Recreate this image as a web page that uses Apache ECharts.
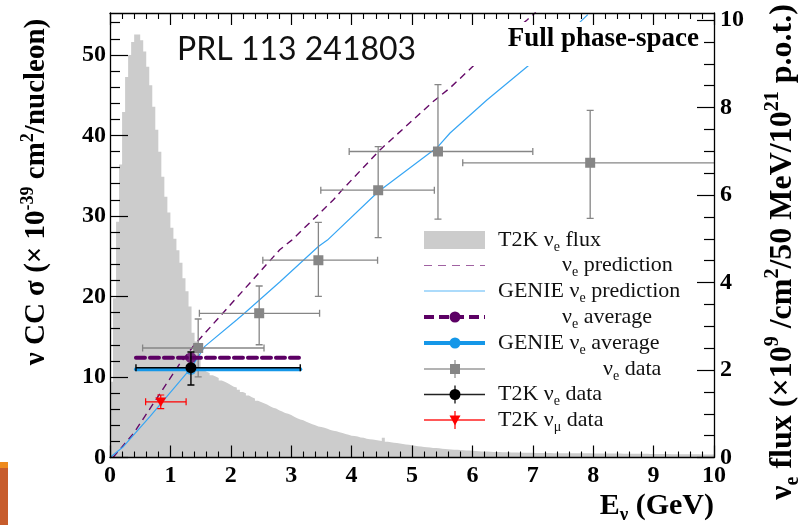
<!DOCTYPE html>
<html>
<head>
<meta charset="utf-8">
<script src="https://cdn.jsdelivr.net/npm/echarts@6/dist/echarts.min.js"></script>
<style>
  html, body { margin: 0; padding: 0; background: #fff; }
  #chart { width: 810px; height: 525px; }
</style>
</head>
<body>
<div id="chart"></div>
<script>
// ---- T2K nu_e flux, 50 MeV bins from 0 to 10 GeV (x10^9 /cm^2/50 MeV/10^21 p.o.t.)
const fluxBinWidth = 0.05;
const fluxValues = [
  1.73, 3.64, 5.39, 6.7, 7.9, 8.7, 9.2, 9.5, 9.67, 9.67,
  9.54, 9.28, 8.93, 8.51, 8.02, 7.49, 6.99, 6.42, 5.96, 5.6,
  5.25, 5.0, 4.74, 4.45, 4.1, 3.8, 3.45, 2.85, 2.65, 2.3,
  2.0, 1.96, 1.93, 1.88, 1.85, 1.82, 1.76, 1.73, 1.70, 1.66,
  1.62, 1.60, 1.55, 1.50, 1.47, 1.42, 1.38, 1.35, 1.30, 1.27,
  1.24, 1.21, 1.17, 1.14, 1.12, 1.08, 1.05, 1.02, 1.00, 0.97,
  0.93, 0.90, 0.87, 0.85, 0.82, 0.79, 0.76, 0.74, 0.71, 0.70,
  0.68, 0.66, 0.63, 0.61, 0.60, 0.58, 0.56, 0.54, 0.52, 0.50,
  0.49, 0.48, 0.46, 0.45, 0.43, 0.42, 0.41, 0.40, 0.39, 0.38,
  0.45, 0.36, 0.35, 0.34, 0.33, 0.32, 0.31, 0.30, 0.29, 0.28,
  0.27, 0.26, 0.25, 0.24, 0.235, 0.23, 0.22, 0.215, 0.21, 0.20,
  0.195, 0.19, 0.185, 0.18, 0.175, 0.17, 0.165, 0.16, 0.158, 0.155,
  0.15, 0.145, 0.14, 0.138, 0.135, 0.13, 0.128, 0.126, 0.124, 0.122,
  0.12, 0.118, 0.116, 0.114, 0.112, 0.11, 0.11, 0.108, 0.107, 0.106,
  0.105, 0.104, 0.104, 0.103, 0.102, 0.101, 0.10, 0.10, 0.099, 0.099,
  0.098, 0.098, 0.097, 0.097, 0.096, 0.096, 0.095, 0.095, 0.095, 0.094,
  0.094, 0.093, 0.093, 0.092, 0.092, 0.091, 0.090, 0.090, 0.089, 0.088,
  0.088, 0.087, 0.086, 0.086, 0.085, 0.084, 0.083, 0.083, 0.082, 0.081,
  0.080, 0.080, 0.079, 0.078, 0.078, 0.077, 0.076, 0.076, 0.075, 0.074,
  0.074, 0.073, 0.073, 0.072, 0.072, 0.071, 0.071, 0.070, 0.070, 0.070
];

// ---- nu_e CC cross-section predictions (x10^-39 cm^2/nucleon) vs E (GeV)
const neutPredE  = [0.05, 0.39, 1.16, 1.41, 1.77, 2.81, 3.01, 3.70, 3.84, 4.47, 5.35, 5.63, 6.04, 6.90, 7.05];
const neutPredXs = [0.0,  3.0,  11.7, 14.1, 17.1, 25.8, 27.0, 32.0, 33.2, 38.2, 44.2, 45.9, 48.8, 54.3, 55.3];
const geniePredE  = [0.0, 0.22, 0.66, 1.34, 1.57, 2.10, 2.24, 2.81, 3.45, 3.60, 4.44, 5.43, 5.63, 6.24, 6.95, 7.73, 7.91];
const geniePredXs = [0.0, 1.34, 5.07, 11.1, 13.8, 17.1, 18.0, 21.8, 26.2, 27.0, 33.0, 38.6, 40.3, 44.4, 48.8, 53.7, 55.0];

// ---- flux-averaged predictions: [mean energy, cross-section], energy range
const neutAvgPoint  = [1.34, 12.4];
const genieAvgPoint = [1.34, 10.95];
const avgRange = [0.43, 3.15];

// ---- measurements: [E, xs, E low, E high, xs low, xs high]
const nueData = [
  [1.46, 13.6, 0.54, 2.55, 10.0, 17.2],
  [2.47, 17.9, 1.48, 3.47, 14.0, 21.3],
  [3.45, 24.5, 2.53, 4.43, 20.0, 29.2],
  [4.44, 33.2, 3.49, 5.37, 27.3, 38.6],
  [5.43, 38.0, 3.96, 7.00, 29.6, 46.3],
  [7.95, 36.6, 5.84, 10.5, 29.7, 43.1]
];
const t2kNueData   = [[1.34, 11.15, 0.43, 3.15, 9.0, 13.1]];
const t2kNumuData  = [[0.84, 6.91, 0.59, 1.26, 6.06, 7.76]];

// ---- axis ticks
const xsTicks = [0, 10, 20, 30, 40, 50];
const xsMinorTicks = [2, 4, 6, 8, 12, 14, 16, 18, 22, 24, 26, 28, 32, 34, 36, 38, 42, 44, 46, 48, 52, 54];
const fluxTicks = [0, 2, 4, 6, 8, 10];
const fluxMinorTicks = [0.5, 1, 1.5, 2.5, 3, 3.5, 4.5, 5, 5.5, 6.5, 7, 7.5, 8.5, 9, 9.5];

const XS_MAX = 55.2;
const FLUX_MAX = 10.16;
const SERIF = '"Liberation Serif", "DejaVu Serif", serif';

const PURPLE = '#650a68';
const PURPLE_AVG = '#5c0064';
const BLUE = '#37a6f4';
const BLUE_AVG = '#1597e8';
const GREY = '#868686';
const FLUX_FILL = '#cccccc';

// histogram outline: each bin contributes its two edges
const fluxSeriesData = [];
fluxValues.forEach(function (v, i) {
  fluxSeriesData.push([i * fluxBinWidth, v], [(i + 1) * fluxBinWidth, v]);
});

const zip = (a, b) => a.map((v, i) => [v, b[i]]);

function errorBars(color, marker, markerSize, lineWidth, capLen) {
  return function (params, api) {
    const x = api.value(0), y = api.value(1);
    const c = api.coord([x, y]);
    const xl = api.coord([api.value(2), y])[0];
    const xh = api.coord([api.value(3), y])[0];
    const yl = api.coord([x, api.value(4)])[1];
    const yh = api.coord([x, api.value(5)])[1];
    const ls = { stroke: color, lineWidth: lineWidth };
    const h = capLen / 2;
    const children = [
      { type: 'line', shape: { x1: xl, y1: c[1], x2: xh, y2: c[1] }, style: ls },
      { type: 'line', shape: { x1: c[0], y1: yl, x2: c[0], y2: yh }, style: ls },
      { type: 'line', shape: { x1: xl, y1: c[1] - h, x2: xl, y2: c[1] + h }, style: ls },
      { type: 'line', shape: { x1: xh, y1: c[1] - h, x2: xh, y2: c[1] + h }, style: ls },
      { type: 'line', shape: { x1: c[0] - h, y1: yl, x2: c[0] + h, y2: yl }, style: ls },
      { type: 'line', shape: { x1: c[0] - h, y1: yh, x2: c[0] + h, y2: yh }, style: ls }
    ];
    const s = markerSize / 2;
    if (marker === 'rect') {
      children.push({ type: 'rect', shape: { x: c[0] - s, y: c[1] - s, width: markerSize, height: markerSize }, style: { fill: color } });
    } else if (marker === 'circle') {
      children.push({ type: 'circle', shape: { cx: c[0], cy: c[1], r: s }, style: { fill: color } });
    } else if (marker === 'triangleDown') {
      children.push({ type: 'polygon', shape: { points: [[c[0] - s, c[1] - s * 0.8], [c[0] + s, c[1] - s * 0.8], [c[0], c[1] + s * 0.9]] }, style: { fill: color } });
    }
    return { type: 'group', children: children };
  };
}

function avgSeries(name, point, color, dashed, z) {
  return [{
    name: name, type: 'line', xAxisIndex: 0, yAxisIndex: 0,
    data: [[avgRange[0], point[1]], [avgRange[1], point[1]]],
    symbol: 'none', z: z,
    lineStyle: { color: color, width: 4, type: dashed ? [9, 5] : 'solid', cap: 'round' }
  }, {
    name: name + ' point', type: 'scatter', xAxisIndex: 0, yAxisIndex: 0,
    data: [point], symbol: 'circle', symbolSize: 11, z: z,
    itemStyle: { color: color }
  }];
}

const tickLabelStyle = { color: '#000', fontFamily: SERIF, fontSize: 24, fontWeight: 'bold' };

function xAxisDef(pos, showLabel) {
  return {
    type: 'value', position: pos, min: 0, max: 10, interval: 1, z: 10,
    axisLine: { show: true, onZero: false, lineStyle: { color: '#000', width: 1.3 } },
    axisTick: { show: true, inside: true, length: 12, lineStyle: { color: '#000', width: 1.2 } },
    minorTick: { show: true, splitNumber: 5, length: 6, lineStyle: { color: '#000', width: 1.1 } },
    axisLabel: Object.assign({ show: showLabel, margin: 6 }, tickLabelStyle),
    splitLine: { show: false }
  };
}

function yAxisDef(pos, max, interval, majors, minors, tickLen, showLabel, margin) {
  return {
    type: 'value', position: pos, min: 0, max: max, interval: interval, z: 10,
    axisLine: { show: showLabel, onZero: false, lineStyle: { color: '#000', width: 1.3 } },
    axisTick: { show: true, inside: true, length: tickLen, customValues: showLabel ? majors : minors, lineStyle: { color: '#000', width: 1.2 } },
    axisLabel: Object.assign({ show: showLabel, customValues: majors, margin: margin }, tickLabelStyle),
    splitLine: { show: false }
  };
}

const chart = echarts.init(document.getElementById('chart'), null, { renderer: 'canvas' });

// legend rows
const LX0 = 424, LX1 = 485, LXC = 455;
const legendRows = [240, 265.5, 291, 317, 343, 369, 394.5, 420];
const txt = function (x, y, rich) {
  return {
    type: 'text', x: x, y: y, z: 20,
    style: {
      text: rich, fill: '#111', fontFamily: SERIF, fontSize: 22,
      align: 'left', verticalAlign: 'middle',
      rich: {
        t: { fontFamily: SERIF, fontSize: 22, lineHeight: 28, fill: '#111' },
        s: { fontFamily: SERIF, fontSize: 14, verticalAlign: 'bottom', fill: '#111' }
      }
    }
  };
};
const legendLine = function (y, color, width, dash) {
  return { type: 'line', z: 20, shape: { x1: LX0, y1: y, x2: LX1, y2: y }, style: { stroke: color, lineWidth: width, lineDash: dash || null } };
};
const legendError = function (y, color) {
  return [
    legendLine(y, color, 1.4),
    { type: 'line', z: 20, shape: { x1: LXC, y1: y - 9, x2: LXC, y2: y + 9 }, style: { stroke: color, lineWidth: 1.4 } }
  ];
};

const legendGraphics = [
  { type: 'rect', z: 20, shape: { x: LX0, y: legendRows[0] - 9, width: LX1 - LX0, height: 18 }, style: { fill: FLUX_FILL } },
  txt(498, legendRows[0], '{t|T2K ν}{s|e}{t| flux}'),
  legendLine(legendRows[1], '#a062a2', 1.2, [8, 6]),
  txt(562, legendRows[1], '{t|ν}{s|e}{t| prediction}'),
  legendLine(legendRows[2], '#5ab7f7', 1.2),
  txt(498, legendRows[2], '{t|GENIE ν}{s|e}{t| prediction}'),
  legendLine(legendRows[3], PURPLE_AVG, 4, [10, 5]),
  { type: 'circle', z: 21, shape: { cx: LXC, cy: legendRows[3], r: 5.5 }, style: { fill: PURPLE_AVG } },
  txt(562, legendRows[3], '{t|ν}{s|e}{t| average}'),
  legendLine(legendRows[4], BLUE_AVG, 4),
  { type: 'circle', z: 21, shape: { cx: LXC, cy: legendRows[4], r: 5.5 }, style: { fill: BLUE_AVG } },
  txt(498, legendRows[4], '{t|GENIE ν}{s|e}{t| average}'),
].concat(legendError(legendRows[5], '#9a9a9a'), [
  { type: 'rect', z: 21, shape: { x: LXC - 5, y: legendRows[5] - 5, width: 10, height: 10 }, style: { fill: GREY } },
  txt(603, legendRows[5], '{t|ν}{s|e}{t| data}')
], legendError(legendRows[6], '#222'), [
  { type: 'circle', z: 21, shape: { cx: LXC, cy: legendRows[6], r: 5.5 }, style: { fill: '#000' } },
  txt(498, legendRows[6], '{t|T2K ν}{s|e}{t| data}')
], legendError(legendRows[7], '#ff2020'), [
  { type: 'polygon', z: 21, shape: { points: [[LXC - 5.5, legendRows[7] - 4.5], [LXC + 5.5, legendRows[7] - 4.5], [LXC, legendRows[7] + 5.5]] }, style: { fill: '#ff0000' } },
  txt(498, legendRows[7], '{t|T2K ν}{s|μ}{t| data}')
]);

function titleRich(size) {
  const small = Math.round(size * 0.62);
  return {
    t: { fontFamily: SERIF, fontSize: size, fontWeight: 'bold', lineHeight: Math.round(size * 1.24), fill: '#000' },
    p: { fontFamily: SERIF, fontSize: small, fontWeight: 'bold', verticalAlign: 'top', fill: '#000' },
    s: { fontFamily: SERIF, fontSize: small, fontWeight: 'bold', verticalAlign: 'bottom', fill: '#000' }
  };
}

const option = {
  backgroundColor: '#fff',
  animation: false,
  grid: { left: 110, right: 96, top: 13, bottom: 67.5, containLabel: false },
  xAxis: [xAxisDef('bottom', true), xAxisDef('top', false)],
  yAxis: [
    yAxisDef('left', XS_MAX, 10, xsTicks, xsMinorTicks, 18, true, 4),
    yAxisDef('right', FLUX_MAX, 2, fluxTicks, fluxMinorTicks, 17, true, 6),
    yAxisDef('left', XS_MAX, 10, xsTicks, xsMinorTicks, 10, false, 4),
    yAxisDef('right', FLUX_MAX, 2, fluxTicks, fluxMinorTicks, 10, false, 6)
  ],
  series: [
    {
      name: 'T2K nu_e flux', type: 'line', xAxisIndex: 0, yAxisIndex: 1,
      data: fluxSeriesData, symbol: 'none', z: 1,
      lineStyle: { width: 0, color: FLUX_FILL },
      areaStyle: { color: FLUX_FILL, opacity: 1 }
    },
    {
      name: 'nu_e prediction', type: 'line', xAxisIndex: 0, yAxisIndex: 0,
      data: zip(neutPredE, neutPredXs), symbol: 'none', z: 3,
      lineStyle: { color: PURPLE, width: 1.4, type: [7, 5] }
    },
    {
      name: 'GENIE nu_e prediction', type: 'line', xAxisIndex: 0, yAxisIndex: 0,
      data: zip(geniePredE, geniePredXs), symbol: 'none', z: 3,
      lineStyle: { color: BLUE, width: 1.2 }
    },
    {
      name: 'nu_e data', type: 'custom', xAxisIndex: 0, yAxisIndex: 0, clip: true, z: 4,
      data: nueData, renderItem: errorBars(GREY, 'rect', 10, 1.3, 7)
    }
  ].concat(
    avgSeries('nu_e average', neutAvgPoint, PURPLE_AVG, true, 5),
    avgSeries('GENIE nu_e average', genieAvgPoint, BLUE_AVG, false, 5),
    [{
      name: 'T2K nu_e data', type: 'custom', xAxisIndex: 0, yAxisIndex: 0, clip: true, z: 6,
      data: t2kNueData, renderItem: errorBars('#000', 'circle', 11, 1.4, 7)
    }, {
      name: 'T2K nu_mu data', type: 'custom', xAxisIndex: 0, yAxisIndex: 0, clip: true, z: 6,
      data: t2kNumuData, renderItem: errorBars('#ff0000', 'triangleDown', 11, 1.2, 7)
    }]
  ),
  graphic: [
    // label box in the top right corner
    { type: 'rect', z: 8, shape: { x: 472, y: 22, width: 236, height: 44 }, style: { fill: '#fff' } },
    { type: 'text', z: 9, x: 699, y: 39, style: { text: 'Full phase-space', fill: '#000', fontFamily: SERIF, fontSize: 27, fontWeight: 'bold', align: 'right', verticalAlign: 'middle' } },
    { type: 'text', z: 9, x: 177, y: 50, style: { text: 'PRL 113 241803', fill: '#111', fontFamily: 'Lato, "Liberation Sans", sans-serif', fontSize: 32, align: 'left', verticalAlign: 'middle' } },
    // axis titles
    {
      type: 'text', z: 9, x: 37, y: 192, rotation: Math.PI / 2,
      style: {
        text: '{t|ν CC σ (× 10}{p|-39}{t| cm}{p|2}{t|/nucleon)}',
        fill: '#000', align: 'center', verticalAlign: 'middle', rich: titleRich(29)
      }
    },
    {
      type: 'text', z: 9, x: 783, y: 252, rotation: Math.PI / 2,
      style: {
        text: '{t|ν}{s|e}{t| flux (×10}{p|9}{t| /cm}{p|2}{t|/50 MeV/10}{p|21}{t| p.o.t.)}',
        fill: '#000', align: 'center', verticalAlign: 'middle', rich: titleRich(32)
      }
    },
    {
      type: 'text', z: 9, x: 714, y: 506,
      style: {
        text: '{t|E}{s|ν}{t| (GeV)}',
        fill: '#000', align: 'right', verticalAlign: 'middle', rich: titleRich(30)
      }
    },
    // edge strip
    { type: 'rect', z: 9, shape: { x: 0, y: 462, width: 8, height: 6 }, style: { fill: '#ee8a1c' } },
    { type: 'rect', z: 9, shape: { x: 0, y: 468, width: 8, height: 57 }, style: { fill: '#c75c2c' } }
  ].concat(legendGraphics)
};

chart.setOption(option);
</script>
</body>
</html>
